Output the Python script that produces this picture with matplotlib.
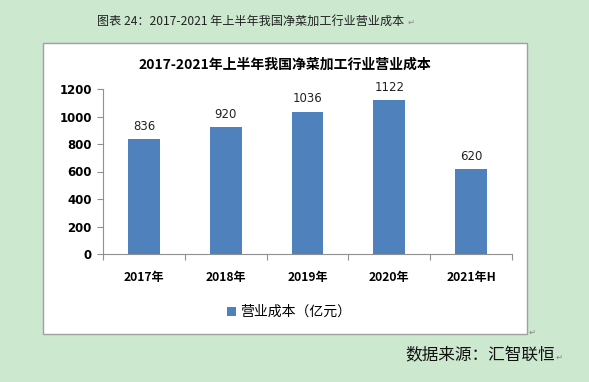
import matplotlib.pyplot as plt
from matplotlib.patches import Rectangle

plt.rcParams['font.family'] = ['Noto Sans CJK SC', 'DejaVu Sans']

years = ['2017年', '2018年', '2019年', '2020年', '2021年H']
cost = [836, 920, 1036, 1122, 620]
yticks = [0, 200, 400, 600, 800, 1000, 1200]

W, H = 589, 382
bg = '#cce8cf'
bar_color = '#4f81bd'

fig = plt.figure(figsize=(W / 100, H / 100), dpi=100)
fig.patch.set_facecolor(bg)

# white chart box behind the axes
fig.patches.append(Rectangle((43 / W, 1 - 334 / H), (527 - 43) / W, (334 - 43) / H,
                             transform=fig.transFigure, facecolor='white',
                             edgecolor='#a0a0a0', linewidth=1, zorder=-5))

ax = fig.add_axes([103 / W, 1 - 254 / H, (512 - 103) / W, (254 - 89) / H])
ax.set_zorder(2)
ax.set_facecolor('white')

x = list(range(len(years)))
bars = ax.bar(x, cost, width=0.39, color=bar_color, label='营业成本（亿元）', zorder=2)
for xi, v in zip(x, cost):
    ax.text(xi, v + 45, str(v), ha='center', va='bottom', fontsize=8.5,
            family=['DejaVu Sans'], color='#222222')

ax.set_xlim(-0.5, len(years) - 0.5)
ax.set_ylim(0, 1200)
ax.set_yticks(yticks)
ax.set_yticklabels([str(t) for t in yticks], fontsize=8.5, fontweight='bold',
                   family=['DejaVu Sans'])
ax.set_xticks([i - 0.5 for i in range(len(years) + 1)])
ax.set_xticklabels([''] * (len(years) + 1))
ax.set_xticks(x, minor=True)
ax.set_xticklabels(years, minor=True, fontsize=8.7, fontweight='bold')
ax.tick_params(axis='x', which='minor', length=0, pad=12)
ax.tick_params(axis='x', which='major', length=4, color='#909090', direction='out')
ax.tick_params(axis='y', length=4, color='#909090', direction='out', pad=4)

for s in ['top', 'right']:
    ax.spines[s].set_visible(False)
for s in ['left', 'bottom']:
    ax.spines[s].set_color('#909090')

fig.text(285 / W, 1 - 65 / H, '2017-2021年上半年我国净菜加工行业营业成本',
         ha='center', va='center', fontsize=10, fontweight='bold')

fig.legend(handles=[bars], loc='center', bbox_to_anchor=(289 / W, 1 - 312 / H),
           frameon=False, fontsize=10, handlelength=0.6, handleheight=0.6,
           handletextpad=0.3)

fig.text(97 / W, 1 - 21 / H, '图表 24：2017-2021 年上半年我国净菜加工行业营业成本',
         ha='left', va='center', fontsize=8.7, color='#222222')
fig.text(408 / W, 1 - 22 / H, '↵', ha='left', va='center', fontsize=6, color='#888888',
         family=['DejaVu Sans'])
fig.text(405 / W, 1 - 356 / H, '数据来源：汇智联恒', ha='left', va='center',
         fontsize=12, color='#111111')
fig.text(556 / W, 1 - 357 / H, '↵', ha='left', va='center', fontsize=6, color='#888888',
         family=['DejaVu Sans'])
fig.text(529 / W, 1 - 332 / H, '↵', ha='left', va='center', fontsize=6, color='#888888',
         family=['DejaVu Sans'])

fig.savefig('out.png', dpi=100, facecolor=bg)
